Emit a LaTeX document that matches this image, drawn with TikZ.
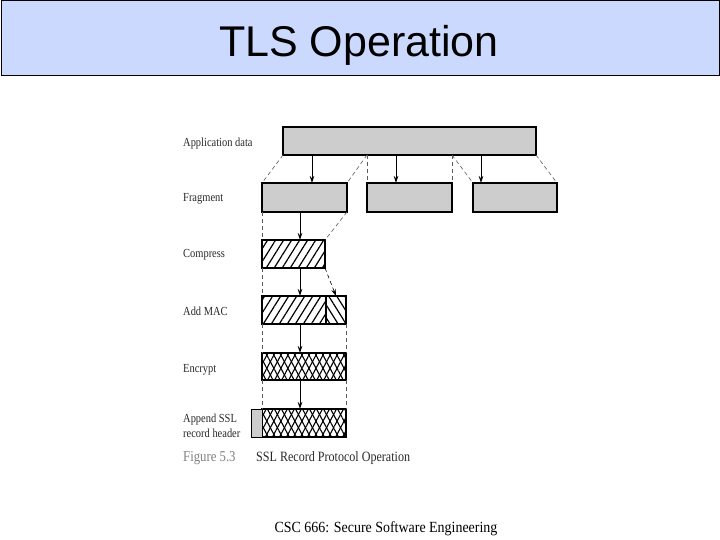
\documentclass[tikz,border=0pt]{standalone}
\usepackage{fontspec}
\setmainfont{Liberation Serif}
\newfontfamily\titlefont{Liberation Sans}
\newfontfamily\figfont[FakeStretch=0.85]{Liberation Serif}
\newfontfamily\footfont[FakeStretch=0.9]{Liberation Serif}
\usetikzlibrary{patterns.meta,arrows.meta}
\definecolor{titleblue}{RGB}{204,217,255}
\definecolor{boxgray}{RGB}{205,205,205}
\definecolor{lblgray}{RGB}{40,40,40}
\definecolor{dashgray}{RGB}{90,90,90}
\begin{document}
\begin{tikzpicture}[x=1pt,y=-1pt,
  base/.style={draw=black, line width=1.4pt, inner sep=0pt, outer sep=0pt, anchor=north west},
  gbox/.style={base, fill=boxgray},
  hatchbox/.style={base, pattern={Lines[angle=58,distance=6.8pt,line width=1.2pt]}},
  backhatch/.style={base, pattern={Lines[angle=-58,distance=6.8pt,line width=1.2pt]}},
  crossbox/.style={base, pattern={Lines[angle=62,distance=6.2pt,line width=1.1pt]},
     postaction={pattern={Lines[angle=-62,distance=6.2pt,line width=1.1pt]}}},
  dline/.style={draw=dashgray, line width=0.6pt, dash pattern=on 4pt off 3pt},
  arr/.style={draw=black, line width=0.8pt, -{Stealth[length=7pt,width=4.5pt]}},
  lbl/.style={anchor=base west, inner sep=0pt, text=lblgray, font=\figfont\fontsize{12.3}{14}\selectfont},
]
\useasboundingbox (0,0) rectangle (720,540);
% title bar
\node[draw=black, line width=1pt, fill=titleblue, inner sep=0pt, outer sep=0pt,
      anchor=north west, minimum width=718pt, minimum height=75pt] (tbar) at (1,1) {};
\node[anchor=base, inner sep=0pt, font=\titlefont\fontsize{43}{43}\selectfont] (title) at (359,57) {TLS Operation};

% boxes
\node[gbox, minimum width=253pt, minimum height=28pt] (app) at (283,127) {};
\node[gbox, minimum width=85pt, minimum height=29pt] (f1) at (262,183) {};
\node[gbox, minimum width=85pt, minimum height=29pt] (f2) at (367,183) {};
\node[gbox, minimum width=84pt, minimum height=29pt] (f3) at (473,183) {};
\node[hatchbox, minimum width=63pt, minimum height=28pt] (comp) at (262,240) {};
\node[hatchbox, minimum width=64pt, minimum height=28pt] (maca) at (262,296) {};
\node[backhatch, minimum width=20pt, minimum height=28pt] (macb) at (326,296) {};
\node[crossbox, minimum width=84pt, minimum height=27pt] (enc) at (262,353) {};
\node[crossbox, minimum width=84pt, minimum height=28pt] (apnd) at (262,409) {};
\node[gbox, line width=1pt, minimum width=11pt, minimum height=28pt] (hdr) at (251,409) {};

% dashed guide lines
\draw[dline] (app.south west) -- (f1.north west);
\draw[dline] (f2.north west |- app.south) -- (f1.north east);
\draw[dline] (f2.north west |- app.south) -- (f2.north west);
\draw[dline] (f2.north east |- app.south) -- (f2.north east);
\draw[dline] (f2.north east |- app.south) -- (f3.north west);
\draw[dline] (app.south east) -- (f3.north east);
\draw[dline] (f1.south west) -- (comp.north west);
\draw[dline] (f1.south east) -- (comp.north east);
\draw[dline] (comp.south west) -- (maca.north west);
\draw[dline] (maca.south west) -- (enc.north west);
\draw[dline] (enc.south west) -- (apnd.north west);
\draw[dline] (macb.south east) -- (enc.north east);
\draw[dline] (enc.south east) -- (apnd.north east);
\draw[dline, -{Stealth[length=7pt,width=4.5pt]}, draw=black] (comp.south east) -- (macb.north);

% arrows
\coordinate (xa) at (312,0);
\coordinate (xb) at (396,0);
\coordinate (xc) at (481,0);
\coordinate (xd) at (300,0);
\draw[arr] (xa |- app.south) -- (xa |- f1.north);
\draw[arr] (xb |- app.south) -- (xb |- f2.north);
\draw[arr] (xc |- app.south) -- (xc |- f3.north);
\draw[arr] (xd |- f1.south) -- (xd |- comp.north);
\draw[arr] (xd |- comp.south) -- (xd |- maca.north);
\draw[arr] (xd |- maca.south) -- (xd |- enc.north);
\draw[arr] (xd |- enc.south) -- (xd |- apnd.north);

% labels
\node[lbl] (lapp) at (183,147) {Application data};
\node[lbl] (lfrag) at (183,202) {Fragment};
\node[lbl] (lcomp) at (183,258) {Compress};
\node[lbl] (lmac) at (183,315) {Add MAC};
\node[lbl] (lenc) at (183,372) {Encrypt};
\node[lbl] (lapp1) at (183,422) {Append SSL};
\node[lbl] (lapp2) at (183,437) {record header};
\node[anchor=base west, inner sep=0pt, text=gray, font=\figfont\fontsize{15}{16}\selectfont] (fig) at (183,461) {Figure 5.3};
\node[anchor=base west, inner sep=0pt, text=lblgray, font=\figfont\fontsize{14.2}{16}\selectfont] (cap) at (256,461) {SSL Record Protocol Operation};

% footer
\node[anchor=base, inner sep=0pt, font=\footfont\fontsize{15.5}{17}\selectfont] (foot) at (386,532) {CSC 666: Secure Software Engineering};
\end{tikzpicture}
\end{document}
